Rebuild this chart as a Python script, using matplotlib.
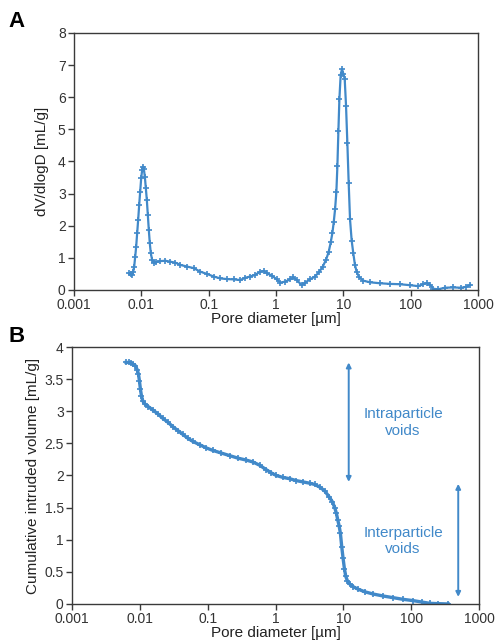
import matplotlib
matplotlib.use("Agg")
import matplotlib.pyplot as plt
from matplotlib.ticker import FixedLocator, FixedFormatter, NullLocator

plt.rcParams['font.family'] = ['Liberation Sans', 'DejaVu Sans']

BLUE = '#4189C9'
AXC = '#3a3a3a'

# Panel A: log differential intrusion vs pore diameter
dia_a = [0.00653, 0.00692, 0.00731, 0.00757, 0.00783, 0.00811, 0.00838, 0.00867,
         0.00897, 0.00929, 0.00961, 0.00995, 0.01029, 0.01052, 0.01089, 0.01127,
         0.01166, 0.01206, 0.01248, 0.01291, 0.01336, 0.01383, 0.01446, 0.01531,
         0.01678, 0.01923, 0.02281, 0.02704, 0.03206, 0.03801, 0.04771, 0.05990,
         0.07520, 0.09441, 0.11853, 0.14881, 0.18683, 0.23455, 0.29447, 0.34901,
         0.41366, 0.49028, 0.58109, 0.65270, 0.73114, 0.86658, 1.0271, 1.1537,
         1.3674, 1.6207, 1.8154, 2.0335, 2.4102, 2.7007, 3.2010, 3.7940, 4.4055,
         4.9438, 5.5338, 6.0632, 6.4907, 6.8703, 7.1943, 7.5326, 7.8809, 8.1557,
         8.4400, 8.7360, 9.1303, 9.5481, 9.9967, 10.466, 10.958, 11.469, 12.005,
         12.566, 13.287, 14.059, 14.875, 15.738, 17.246, 19.77, 24.82, 34.91,
         49.11, 69.11, 97.2, 129.2, 153.2, 175.4, 196.7, 215.4, 255.4, 320.5,
         426.4, 566.4, 671.6, 769.6]
dvdlogd = [0.52, 0.50, 0.47, 0.57, 0.73, 1.04, 1.35, 1.77,
           2.18, 2.65, 3.06, 3.48, 3.74, 3.84, 3.77, 3.53,
           3.17, 2.81, 2.34, 1.87, 1.45, 1.14, 0.94, 0.85,
           0.87, 0.90, 0.91, 0.88, 0.85, 0.78, 0.73, 0.68,
           0.57, 0.50, 0.42, 0.36, 0.34, 0.33, 0.31, 0.38,
           0.42, 0.47, 0.57, 0.59, 0.52, 0.45, 0.33, 0.23,
           0.26, 0.33, 0.39, 0.31, 0.15, 0.23, 0.33, 0.42, 0.57,
           0.73, 0.94, 1.19, 1.48, 1.77, 2.11, 2.51, 3.06, 3.86,
           4.94, 5.95, 6.70, 6.88, 6.73, 6.58, 5.74, 4.57, 3.32,
           2.20, 1.54, 1.14, 0.78, 0.57, 0.39, 0.29, 0.24, 0.21,
           0.19, 0.18, 0.15, 0.12, 0.18, 0.22, 0.15, 0.04, 0.02, 0.07,
           0.08, 0.07, 0.10, 0.16]

# Panel B: cumulative intruded volume vs pore diameter
dia_b = [0.006268, 0.006870, 0.007431, 0.008043, 0.008610, 0.009115, 0.009535,
         0.009865, 0.010207, 0.010558, 0.011048, 0.011962, 0.013397, 0.015522,
         0.018396, 0.021806, 0.025846, 0.030633, 0.036309, 0.043034, 0.051007,
         0.060455, 0.075844, 0.095126, 0.11932, 0.15844, 0.21028, 0.27917,
         0.37061, 0.46484, 0.58304, 0.73146, 0.86700, 1.0276, 1.2890, 1.6172,
         2.0284, 2.5441, 3.1911, 3.7828, 4.4843, 5.3147, 6.1559, 6.8966, 7.4657,
         7.9008, 8.2662, 8.6498, 9.0506, 9.4702, 9.9107, 10.369, 10.849, 11.482,
         12.434, 13.925, 16.503, 20.703, 27.479, 38.610, 54.25, 76.2, 107.0,
         142.1, 188.7, 250.4, 351.8]
cum_vol = [3.76, 3.76, 3.75, 3.73, 3.71, 3.65, 3.58,
           3.47, 3.34, 3.24, 3.16, 3.11, 3.07, 3.02,
           2.96, 2.89, 2.83, 2.76, 2.70, 2.64, 2.58,
           2.53, 2.48, 2.43, 2.39, 2.35, 2.31, 2.27,
           2.24, 2.21, 2.16, 2.09, 2.04, 2.00, 1.97, 1.95,
           1.92, 1.90, 1.88, 1.86, 1.82, 1.76, 1.67, 1.59, 1.50,
           1.41, 1.31, 1.22, 1.10, 0.89, 0.71, 0.55, 0.43, 0.36,
           0.31, 0.27, 0.23, 0.19, 0.155, 0.124, 0.098, 0.072, 0.052,
           0.031, 0.010, 0.005, 0.0]

x_ticks = [0.001, 0.01, 0.1, 1, 10, 100, 1000]
x_ticklabels = ['0.001', '0.01', '0.1', '1', '10', '100', '1000']
ya_ticks = [0, 1, 2, 3, 4, 5, 6, 7, 8]
yb_ticks = [0, 0.5, 1, 1.5, 2, 2.5, 3, 3.5, 4]
yb_ticklabels = ['0', '0.5', '1', '1.5', '2', '2.5', '3', '3.5', '4']

# Void class annotations: (label, arrow x, arrow top, arrow bottom, text x, text y)
intra = ('Intraparticle\nvoids', 12.0, 3.76, 1.90, 76.0, 2.83)
inter = ('Interparticle\nvoids', 494.0, 1.87, 0.11, 76.0, 0.98)

fig = plt.figure(figsize=(4.95, 6.43), dpi=100)
ax_a = fig.add_axes([0.1495, 0.549, 0.8162, 0.3997])
ax_b = fig.add_axes([0.1455, 0.0607, 0.8222, 0.3996])


def style_axis(ax):
    ax.set_xscale('log')
    ax.set_xlim(0.001, 1000)
    ax.xaxis.set_major_locator(FixedLocator(x_ticks))
    ax.xaxis.set_major_formatter(FixedFormatter(x_ticklabels))
    ax.xaxis.set_minor_locator(NullLocator())
    for sp in ax.spines.values():
        sp.set_color(AXC)
        sp.set_linewidth(1.0)
    ax.tick_params(axis='both', direction='out', length=4, width=1.0,
                   color=AXC, labelsize=10, labelcolor='#333333', pad=2)
    ax.set_xlabel('Pore diameter [µm]', fontsize=11, color='#222222', labelpad=0)


style_axis(ax_a)
ax_a.plot(dia_a, dvdlogd, color=BLUE, lw=1.6, marker='+', ms=4, mew=1.2)
ax_a.set_ylim(0, 8)
ax_a.yaxis.set_major_locator(FixedLocator(ya_ticks))
ax_a.set_ylabel('dV/dlogD [mL/g]', fontsize=11, color='#222222', labelpad=6)

style_axis(ax_b)
ax_b.plot(dia_b, cum_vol, color=BLUE, lw=2.4, marker='+', ms=4, mew=1.2)
ax_b.set_ylim(0, 4)
ax_b.yaxis.set_major_locator(FixedLocator(yb_ticks))
ax_b.yaxis.set_major_formatter(FixedFormatter(yb_ticklabels))
ax_b.set_ylabel('Cumulative intruded volume [mL/g]', fontsize=11,
                color='#222222', labelpad=3)

for label, xa, y_top, y_bot, xt, yt in (intra, inter):
    ax_b.annotate('', xy=(xa, y_top), xytext=(xa, y_bot),
                  arrowprops=dict(arrowstyle='<|-|>', color=BLUE, lw=1.4,
                                  mutation_scale=7, shrinkA=0, shrinkB=0))
    ax_b.text(xt, yt, label, color=BLUE, fontsize=11, ha='center',
              va='center', linespacing=1.25)

fig.text(0.018, 0.967, 'A', fontsize=16, fontweight='bold', va='center')
fig.text(0.018, 0.477, 'B', fontsize=16, fontweight='bold', va='center')

fig.savefig('out.png', dpi=100)
